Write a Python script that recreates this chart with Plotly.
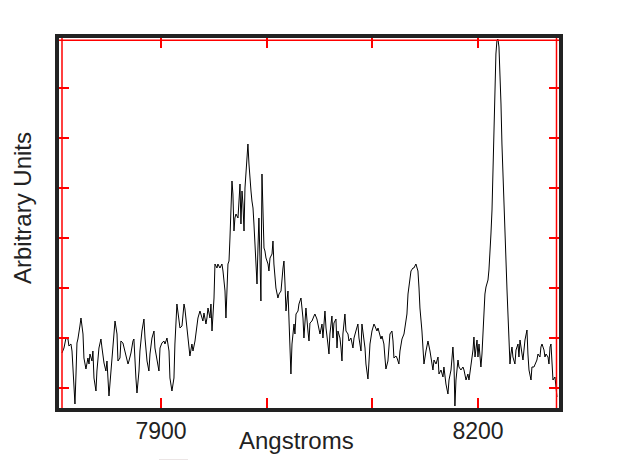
import plotly.graph_objects as go

# Spectrum: wavelength (Angstroms) and intensity (arbitrary units)
wavelength = [
    7806.3, 7808.2, 7810.1, 7812.0, 7812.9, 7814.8, 7815.8, 7817.7, 7818.6, 7819.6,
    7820.5, 7821.4, 7822.4, 7823.3, 7824.3, 7826.2, 7827.1, 7829.0, 7830.9, 7831.9,
    7832.8, 7834.7, 7835.6, 7836.6, 7838.5, 7839.4, 7841.3, 7843.2, 7844.2, 7846.1,
    7847.9, 7848.9, 7850.8, 7852.7, 7853.6, 7855.5, 7856.5, 7858.4, 7859.3, 7861.2,
    7862.1, 7864.0, 7865.0, 7866.9, 7868.8, 7869.7, 7871.6, 7873.5, 7874.4, 7876.3,
    7877.3, 7879.2, 7880.1, 7882.0, 7883.9, 7884.9, 7886.8, 7888.6, 7889.6, 7891.5,
    7893.4, 7894.3, 7896.2, 7898.1, 7899.1, 7900.9, 7902.8, 7903.8, 7905.7, 7907.6,
    7908.5, 7910.4, 7912.3, 7913.2, 7915.1, 7917.0, 7918.0, 7919.9, 7921.8, 7922.7,
    7924.6,
    7925.6, 7927.4, 7929.3, 7930.3, 7932.2, 7934.1, 7935.0, 7936.9, 7938.8, 7939.7,
    7940.7, 7942.6, 7943.5, 7944.5, 7946.4, 7947.3, 7948.3, 7950.2, 7951.1, 7953.0,
    7953.9, 7955.8, 7957.7, 7958.7, 7960.6, 7961.5, 7963.4, 7964.4, 7965.3, 7967.2,
    7968.1, 7969.1, 7970.0, 7971.0, 7972.9, 7973.8, 7974.8, 7975.7, 7976.7, 7977.6,
    7978.6, 7979.5, 7980.4, 7981.4, 7982.3, 7983.3, 7984.2, 7985.2, 7986.1, 7987.1,
    7988.0, 7989.0, 7989.9, 7990.9, 7991.8, 7992.7, 7993.7, 7994.6, 7995.6, 7996.5,
    7997.5, 7998.4, 7999.4, 8001.3, 8002.2, 8003.2, 8005.1, 8006.0, 8006.9, 8008.8,
    8010.7, 8011.7, 8013.6, 8015.5, 8016.4, 8017.4, 8018.3, 8020.2, 8021.1, 8022.1,
    8023.0, 8024.0, 8025.9, 8026.8, 8027.8, 8029.7, 8030.6, 8032.5, 8034.4, 8035.3,
    8037.2,
    8039.1, 8040.1, 8041.0, 8042.9, 8044.8, 8045.7, 8047.6, 8049.5, 8050.5, 8052.4,
    8053.3, 8055.2, 8056.2, 8058.0, 8059.0, 8059.9, 8061.8, 8062.8, 8063.7, 8065.6,
    8066.6, 8067.5, 8069.4, 8070.4, 8071.3, 8072.2, 8074.1, 8075.1, 8077.0, 8077.9,
    8079.8, 8081.7, 8082.7, 8084.5, 8086.4, 8087.4, 8089.3, 8090.2, 8092.1, 8093.1,
    8094.0, 8095.9, 8096.9, 8097.8, 8099.7, 8101.6, 8102.5, 8104.4, 8105.4, 8107.3,
    8108.2, 8109.2, 8111.0, 8112.0, 8112.9, 8114.8, 8115.8, 8116.7, 8118.6, 8119.6,
    8120.5, 8122.4, 8123.4, 8125.2, 8126.2, 8128.1, 8130.0, 8130.9, 8132.8, 8133.8,
    8135.7, 8136.6, 8138.5, 8139.4, 8141.3, 8143.2, 8144.2, 8145.1, 8147.0, 8148.0,
    8148.9, 8150.8, 8151.7, 8152.7, 8154.6,
    8155.5, 8157.4, 8158.4, 8160.3, 8162.2, 8163.1, 8165.0, 8166.9, 8167.8, 8169.7,
    8171.6, 8172.6, 8174.5, 8175.4, 8176.3, 8177.3, 8178.2, 8179.2, 8181.1, 8182.0,
    8183.9, 8185.8, 8186.8, 8188.7, 8190.5, 8191.5, 8193.4, 8195.3, 8196.2, 8197.2,
    8199.1, 8200.0, 8201.0, 8202.8, 8203.8, 8204.7, 8205.7, 8206.6, 8207.6, 8209.5,
    8210.4, 8211.4, 8212.3, 8213.3, 8214.2, 8215.2, 8216.1, 8217.0, 8218.0, 8218.9,
    8219.9, 8220.8, 8221.8, 8222.7, 8223.7, 8224.6, 8226.5, 8227.5, 8228.4, 8229.3,
    8230.3, 8231.2, 8232.2, 8233.1, 8235.0, 8236.0, 8237.9, 8238.8, 8239.8, 8241.7,
    8242.6, 8244.5, 8246.4, 8247.3, 8248.3, 8250.2, 8251.1, 8253.0, 8254.0, 8255.8,
    8256.8, 8258.7, 8259.6, 8260.6, 8262.5, 8263.4, 8264.4, 8266.3, 8267.2, 8268.2,
    8269.1, 8270.0, 8271.0, 8272.9, 8273.8, 8274.8,
]

intensity = [
    0.70, 0.80, 1.00, 0.98, 0.84, 0.88, 0.74, 0.14, -0.32, 0.28,
    0.90, 0.98, 1.08, 1.24, 1.40, 1.08, 0.60, 0.38, 0.60, 0.48,
    0.68, 0.54, 0.74, 0.20, -0.06, 0.34, 0.80, 0.98, 0.80, 0.50,
    0.34, 0.54, -0.16, 0.34, 0.74, 1.20, 1.34, 1.08, 0.54, 0.60,
    0.94, 0.90, 0.80, 0.68, 0.48, 0.54, 0.70, 0.94, 0.98, 0.20,
    -0.10, 0.34, 0.74, 1.14, 1.38, 1.00, 0.54, 0.34, 0.68, 1.00,
    1.14, 0.80, 0.54, 0.34, 0.80, 0.90, 0.94, 0.88, 1.00, 0.74,
    0.20, -0.06, 0.20, 0.88, 1.68, 1.40, 1.20, 1.24, 1.68, 1.58,
    1.20,
    1.00, 0.64, 0.88, 0.74, 0.94, 1.28, 1.40, 1.54, 1.40, 1.34,
    1.50, 1.28, 1.40, 1.60, 1.40, 1.68, 1.14, 1.80, 2.48, 2.40,
    2.48, 2.40, 2.48, 2.34, 1.94, 1.40, 2.48, 2.54, 3.00, 4.14,
    3.88, 3.14, 3.40, 3.48, 3.40, 3.68, 4.08, 3.28, 3.94, 3.68,
    3.14, 4.00, 4.28, 4.74, 4.88, 4.48, 4.14, 3.94, 3.74, 3.60,
    3.28, 2.80, 2.60, 2.08, 2.80, 3.40, 2.60, 1.74, 4.28, 3.48,
    2.80, 2.74, 2.60, 2.48, 2.34, 2.60, 2.68, 2.94, 2.48, 2.00,
    1.80, 1.88, 1.94, 2.40, 2.54, 2.08, 1.54, 1.94, 1.40, 0.80,
    0.28, 0.88, 1.28, 1.08, 1.48, 1.54, 1.68, 1.80, 1.40, 1.00,
    1.60,
    1.14, 0.94, 1.30, 1.34, 1.44, 1.48, 1.38, 1.20, 1.08, 1.28,
    1.00, 1.54, 1.20, 0.88, 0.68, 1.08, 1.44, 1.00, 1.30, 1.38,
    0.80, 1.14, 1.00, 0.80, 0.54, 1.08, 1.48, 1.14, 1.08, 0.94,
    1.00, 0.80, 1.00, 1.14, 1.28, 1.00, 0.74, 1.28, 1.00, 0.80,
    0.48, 0.18, 0.54, 0.88, 1.14, 1.28, 1.24, 1.14, 1.20, 1.08,
    0.98, 1.04, 0.88, 0.60, 0.38, 0.54, 0.88, 1.08, 1.14, 0.94,
    0.60, 0.64, 0.60, 0.48, 0.74, 0.98, 1.08, 1.20, 1.48, 1.88,
    2.14, 2.34, 2.40, 2.40, 2.48, 2.34, 2.00, 1.60, 1.14, 0.88,
    0.48, 0.74, 0.88, 0.94, 0.74,
    0.62, 0.36, 0.56, 0.48, 0.62, 0.28, 0.36, 0.22, 0.42, 0.08,
    -0.12, 0.16, 0.36, 0.62, 0.82, 0.48, -0.36, 0.16, 0.56, 0.42,
    0.36, 0.42, 0.36, 0.16, 0.28, 0.16, 0.42, 0.76, 1.02, 0.62,
    0.96, 0.62, 0.88, 0.42, 0.68, 1.16, 1.76, 1.88, 2.02, 2.16,
    2.36, 2.68, 3.08, 3.56, 4.44, 5.54, 6.36, 6.68, 6.96, 6.98,
    6.82, 6.36, 5.68, 4.88, 4.22, 3.48, 2.68, 1.96, 1.48, 1.02,
    0.48, 0.68, 0.82, 0.62, 0.48, 0.76, 0.88, 0.62, 0.96, 0.68,
    0.56, 0.96, 1.16, 0.68, 0.36, 0.16, 0.42, 0.42, 0.48, 0.56,
    0.68, 0.62, 0.82, 0.88, 0.76, 0.62, 0.68, 0.62, 0.48, 0.82,
    0.88, 0.48, 0.16, 0.22, 0.02, -0.18,
]

x_tick_values = [7900, 8000, 8100, 8200]
x_tick_labels = ["7900", "", "", "8200"]
y_tick_values = [0, 1, 2, 3, 4, 5, 6]

x_range = [7803.5, 8276.7]
y_range = [-0.4, 7.0]

FONT = "Liberation Sans, Arial, Helvetica, sans-serif"
RED = "#ff0000"
FRAME = "#222222"

fig = go.Figure()
fig.add_trace(go.Scatter(
    x=wavelength, y=intensity, mode="lines",
    line=dict(color="#000000", width=1),
    hoverinfo="skip", showlegend=False,
))

# page body adds a small offset; figure sized so the plot frame lands at x 58-558, y 37-407
fig.update_layout(
    width=614, height=452,
    margin=dict(l=51, r=63, t=30, b=52),
    paper_bgcolor="white", plot_bgcolor="white",
    font=dict(family=FONT, color="#222222"),
    showlegend=False,
)

fig.update_xaxes(
    range=x_range, tickmode="array", tickvals=x_tick_values, ticktext=x_tick_labels,
    ticks="inside", ticklen=10, tickwidth=2, tickcolor=RED,
    showline=True, linecolor=FRAME, linewidth=3.5, mirror="ticks",
    showgrid=False, zeroline=False,
    tickfont=dict(size=23, color="#222222", family=FONT),
)
fig.update_yaxes(
    range=y_range, tickmode="array", tickvals=y_tick_values,
    ticks="inside", ticklen=10, tickwidth=2, tickcolor=RED,
    showline=True, linecolor=FRAME, linewidth=3.5, mirror="ticks",
    showgrid=False, zeroline=False, showticklabels=False,
)

# thin red inner lines along left, top and right of the frame
fig.add_shape(type="line", xref="paper", yref="paper", x0=0.006, x1=0.006, y0=0.0, y1=1.0,
              line=dict(color=RED, width=1.5), layer="above")
fig.add_shape(type="line", xref="paper", yref="paper", x0=0.0, x1=1.0, y0=0.994, y1=0.994,
              line=dict(color=RED, width=1.5), layer="above")
fig.add_shape(type="line", xref="paper", yref="paper", x0=0.995, x1=0.995, y0=0.0, y1=1.0,
              line=dict(color=RED, width=1.5), layer="above")
# faint stray mark under the axis title
fig.add_shape(type="line", xref="paper", yref="paper", x0=0.2, x1=0.258, y0=-0.1405, y1=-0.1405,
              line=dict(color="#d9cccc", width=1))

fig.add_annotation(text="Angstroms", xref="paper", yref="paper", x=(295 - 58) / 500, y=-(439 - 407) / 370,
                   showarrow=False, xanchor="center", yanchor="middle",
                   font=dict(size=24, color="#222222", family=FONT))
fig.add_annotation(text="Arbitrary Units", xref="paper", yref="paper", x=-(58 - 21) / 500, y=(407 - 207) / 370,
                   showarrow=False, xanchor="center", yanchor="middle", textangle=-90,
                   font=dict(size=24, color="#222222", family=FONT))

fig.write_html("out.html")
